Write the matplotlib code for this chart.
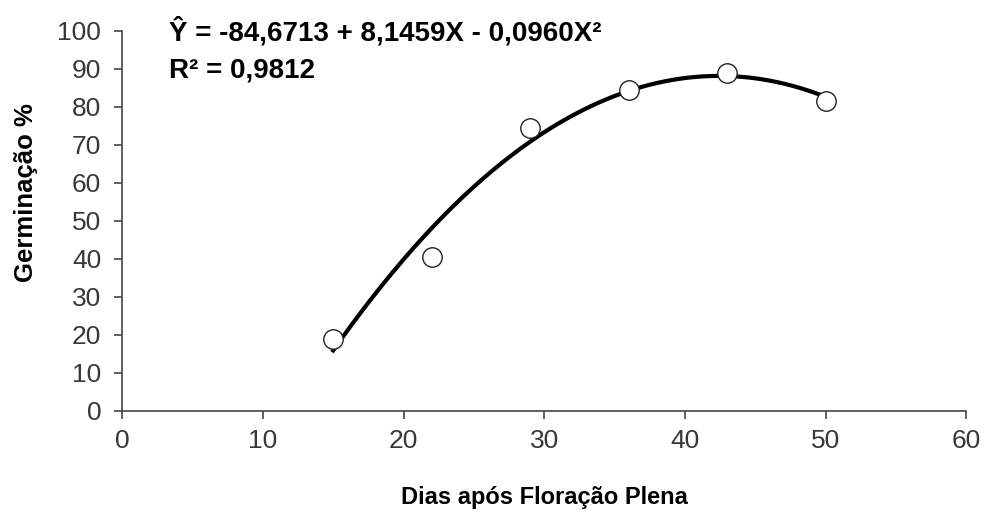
import numpy as np
import matplotlib.pyplot as plt

# Observed data
dias = [15, 22, 29, 36, 43, 50]
germinacao = [19.0, 40.5, 74.5, 84.5, 89.0, 81.5]

# Regression coefficients (from the equation on the chart), highest power first
coef = [-0.0960, 8.1459, -84.6713]
x_ticks = [0, 10, 20, 30, 40, 50, 60]
y_ticks = [0, 10, 20, 30, 40, 50, 60, 70, 80, 90, 100]

plt.rcParams['font.family'] = ['Liberation Sans', 'DejaVu Sans']

fig = plt.figure(figsize=(9.85, 5.13), dpi=100)
ax = fig.add_axes([0.124, 0.199, 0.857, 0.741])

# Fitted curve
xf = np.linspace(min(dias), max(dias), 200)
ax.plot(xf, np.polyval(coef, xf), color='black', lw=3.0, zorder=2)

# Observed points
ax.plot(dias, germinacao, 'o', ms=14, mfc='white', mec='#222222', mew=1.0, zorder=3)

ax.set_xlim(0, 60)
ax.set_ylim(0, 100)
ax.set_xticks(x_ticks)
ax.set_yticks(y_ticks)
ax.tick_params(direction='out', length=6, width=1.2, color='#444444',
               labelsize=19, labelcolor='#383838')
ax.tick_params(axis='x', pad=7)
ax.tick_params(axis='y', pad=9)
for s in ['top', 'right']:
    ax.spines[s].set_visible(False)
for s in ['left', 'bottom']:
    ax.spines[s].set_color('#444444')
    ax.spines[s].set_linewidth(1.2)

ax.set_xlabel('Dias após Floração Plena', fontsize=17, fontweight='bold', labelpad=24)
ax.set_ylabel('Germinação %', fontsize=18.5, fontweight='bold', labelpad=12)
ax.yaxis.set_label_coords(-0.1, 0.574)

# Equation
fig.text(0.172, 0.938, 'Ŷ = -84,6713 + 8,1459X - 0,0960X²', fontsize=20,
         fontweight='bold', va='center', ha='left')
fig.text(0.172, 0.862, 'R² = 0,9812', fontsize=20, fontweight='bold',
         va='center', ha='left')

fig.savefig('out.png', dpi=100)
